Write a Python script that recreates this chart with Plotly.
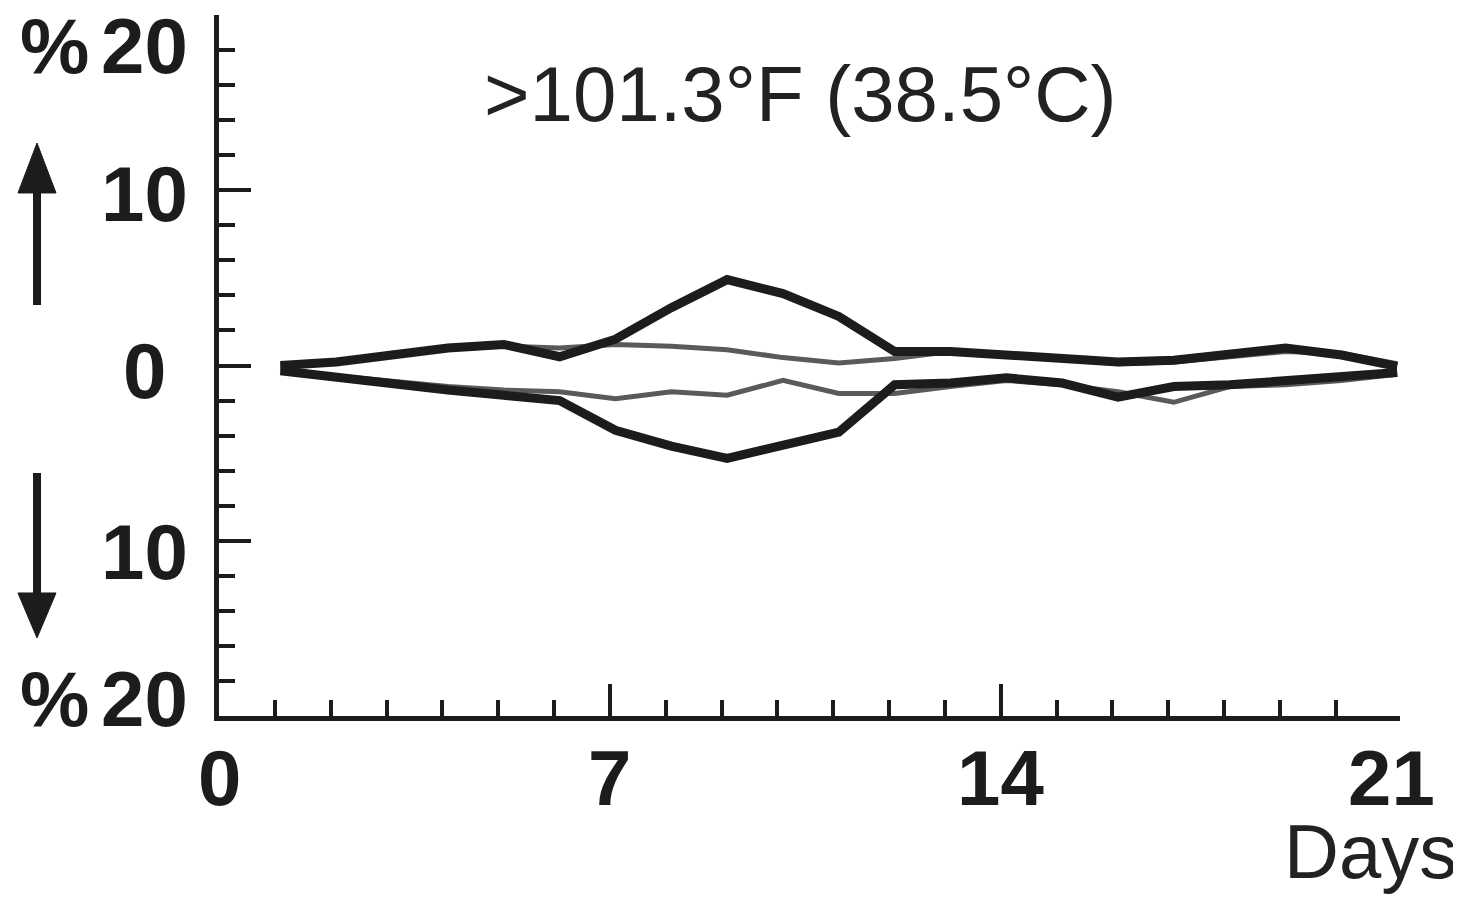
import plotly.graph_objects as go

# ---- data ----
days = [1.1, 2.1, 3.1, 4.1, 5.1, 6.1, 7.1, 8.1, 9.1, 10.1, 11.1,
        12.1, 13.1, 14.1, 15.1, 16.1, 17.1, 18.1, 19.1, 20.1, 21.1]

upper_thick = [0.0, 0.2, 0.6, 1.0, 1.2, 0.5, 1.5, 3.3, 4.9, 4.1, 2.8,
               0.8, 0.8, 0.6, 0.5, 0.2, 0.3, 0.6, 1.0, 0.6, -0.05]
upper_thin = [0.0, 0.2, 0.7, 1.0, 1.1, 1.0, 1.2, 1.1, 0.9, 0.45, 0.15,
              0.4, 0.8, 0.6, 0.4, 0.1, 0.2, 0.5, 0.8, 0.7, 0.1]
lower_thick = [-0.3, -0.7, -1.0, -1.4, -1.7, -2.0, -3.7, -4.6, -5.3, -4.6, -3.8,
               -1.1, -1.0, -0.7, -1.0, -1.8, -1.2, -1.1, -0.85, -0.7, -0.4]
lower_thin = [-0.2, -0.6, -0.9, -1.2, -1.4, -1.5, -1.9, -1.5, -1.7, -0.85, -1.6,
              -1.6, -1.2, -0.85, -1.1, -1.5, -2.1, -1.2, -1.1, -0.85, -0.5]

x_tick_labels = ["0", "7", "14", "21"]
x_tick_days = [0, 7, 14, 21]
y_major = [-10, 0, 10]
y_minor = [-18, -16, -14, -12, -8, -6, -4, -2, 2, 4, 6, 8, 12, 14, 16, 18]
x_minor = [1, 2, 3, 4, 5, 6, 8, 9, 10, 11, 12, 13, 15, 16, 17, 18, 19, 20]
y_label_text = ["20", "10", "0", "10", "20"]
y_label_pos = [0.9558, 0.7447, 0.4922, 0.2340, 0.0243]  # paper y

title_text = ">101.3°F (38.5°C)"

FONT = "Liberation Sans, Arial, sans-serif"
INK = "#1c1c1c"
GRAY = "#5a5a5a"

fig = go.Figure()
fig.add_trace(go.Scatter(x=days, y=upper_thin, mode="lines",
                         line=dict(color=GRAY, width=5), showlegend=False))
fig.add_trace(go.Scatter(x=days, y=lower_thin, mode="lines",
                         line=dict(color=GRAY, width=5), showlegend=False))
fig.add_trace(go.Scatter(x=days, y=upper_thick, mode="lines",
                         line=dict(color=INK, width=9), showlegend=False))
fig.add_trace(go.Scatter(x=days, y=lower_thick, mode="lines",
                         line=dict(color=INK, width=9), showlegend=False))

fig.update_xaxes(range=[0, 21.15], showgrid=False, zeroline=False,
                 showline=True, linecolor=INK, linewidth=5,
                 tickmode="array", tickvals=[7, 14], ticks="inside",
                 ticklen=32, tickwidth=4, tickcolor=INK, showticklabels=False,
                 minor=dict(tickmode="array", tickvals=x_minor, ticks="inside",
                            ticklen=16, tickwidth=4, tickcolor=INK))
fig.update_yaxes(range=[-20, 20], showgrid=False, zeroline=False,
                 showline=True, linecolor=INK, linewidth=5,
                 tickmode="array", tickvals=y_major, ticks="inside",
                 ticklen=32, tickwidth=4, tickcolor=INK, showticklabels=False,
                 minor=dict(tickmode="array", tickvals=y_minor, ticks="inside",
                            ticklen=16, tickwidth=4, tickcolor=INK))

annotations = []
for t, d in zip(x_tick_labels, x_tick_days):
    annotations.append(dict(x=d, y=-0.0884, xref="x", yref="paper", text=t,
                            showarrow=False, xanchor="center", yanchor="middle",
                            font=dict(family=FONT, size=78, color=INK, weight="bold")))
for t, yp in zip(y_label_text, y_label_pos):
    annotations.append(dict(x=-0.0627, y=yp, xref="paper", yref="paper", text=t,
                            showarrow=False, xanchor="center", yanchor="middle",
                            font=dict(family=FONT, size=78, color=INK, weight="bold")))
for yp in [y_label_pos[0], y_label_pos[-1]]:
    annotations.append(dict(x=-0.1389, y=yp, xref="paper", yref="paper", text="%",
                            showarrow=False, xanchor="center", yanchor="middle",
                            font=dict(family=FONT, size=78, color=INK, weight="bold")))
annotations.append(dict(x=0.4928, y=0.8873, xref="paper", yref="paper", text=title_text,
                        showarrow=False, xanchor="center", yanchor="middle",
                        font=dict(family=FONT, size=78, color="#222222")))
annotations.append(dict(x=0.9746, y=-0.194, xref="paper", yref="paper", text="Days",
                        showarrow=False, xanchor="center", yanchor="middle",
                        font=dict(family=FONT, size=76, color="#222222")))

# arrows (paper coordinates)
ax_c = -0.1541
hw = 0.0161
shapes = [
    dict(type="line", xref="paper", yref="paper", x0=ax_c, x1=ax_c, y0=0.5863, y1=0.76,
         line=dict(color=INK, width=8)),
    dict(type="path", xref="paper", yref="paper",
         path=f"M {ax_c - hw} 0.7461 L {ax_c + hw} 0.7461 L {ax_c} 0.8174 Z",
         fillcolor=INK, line=dict(color=INK, width=1)),
    dict(type="line", xref="paper", yref="paper", x0=ax_c, x1=ax_c, y0=0.3466, y1=0.16,
         line=dict(color=INK, width=8)),
    dict(type="path", xref="paper", yref="paper",
         path=f"M {ax_c - hw} 0.1755 L {ax_c + hw} 0.1755 L {ax_c} 0.1113 Z",
         fillcolor=INK, line=dict(color=INK, width=1)),
]

fig.update_layout(width=1453, height=892, paper_bgcolor="white", plot_bgcolor="white",
                  margin=dict(l=211, r=61, t=7, b=184),
                  annotations=annotations, shapes=shapes, showlegend=False)

fig.write_html("out.html")
